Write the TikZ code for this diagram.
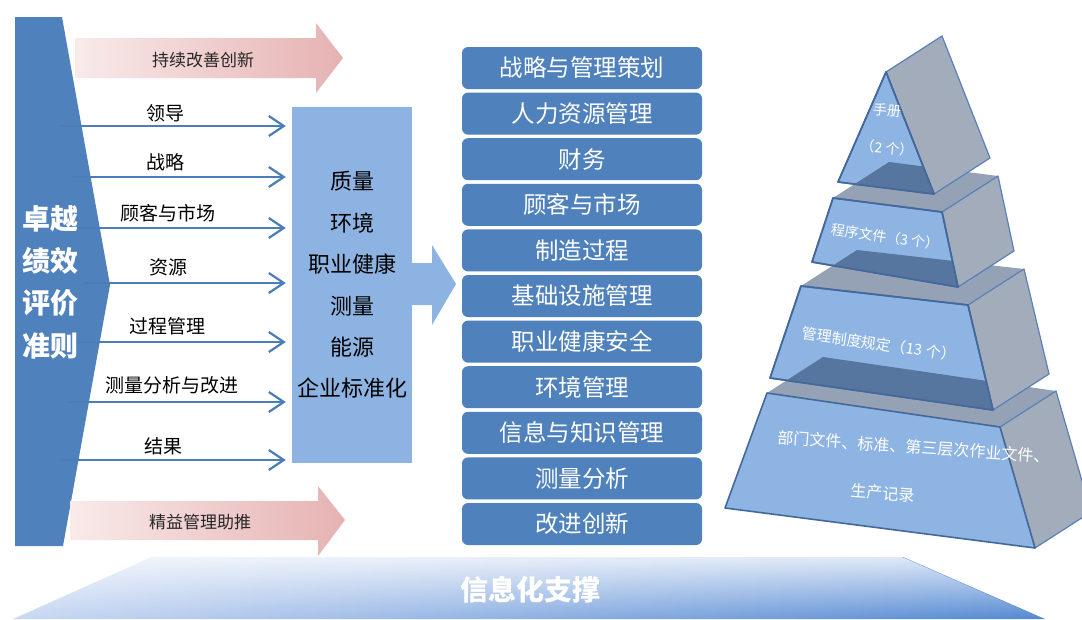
\documentclass[tikz,border=0pt]{standalone}
\usepackage{fontspec}
\setmainfont{Noto Sans CJK SC}
\usetikzlibrary{arrows.meta,calc,fadings}
\definecolor{dblue}{HTML}{4F81BD}
\definecolor{lblue}{HTML}{8DB3E2}
\definecolor{arrblue}{HTML}{4A7EBB}
\definecolor{pinkL}{HTML}{F9EAEA}
\definecolor{pinkR}{HTML}{E6B2B2}
\definecolor{barL}{HTML}{C9D8F3}
\definecolor{barM}{HTML}{9FBBE8}
\definecolor{barR}{HTML}{5288D2}
\definecolor{pgrey}{HTML}{A2ACBA}
\definecolor{pgreyTop}{HTML}{95A2B6}
\definecolor{pedge}{HTML}{5A80B8}
\definecolor{pfront}{HTML}{8EB4E3}
\definecolor{pborder}{HTML}{44689C}
\definecolor{pdark}{HTML}{56759F}
\tikzfading[name=fadetop, top color=transparent!20, bottom color=transparent!100]
\begin{document}
\begin{tikzpicture}[x=1pt,y=-1pt,
  harrow/.style={draw=arrblue, line width=2.2pt, shorten >=6pt, -{Straight Barb[length=15pt,width=20pt]}},
  hlabel/.style={font=\fontsize{19}{22}\selectfont, text=black, inner sep=0pt},
  pinktext/.style={font=\fontsize{17}{20}\selectfont, text=black!85, inner sep=0pt},
  listbox/.style={fill=dblue, rounded corners=6pt, minimum width=240pt, minimum height=42pt, inner sep=0pt, text=white, font=\fontsize{23.5}{26}\selectfont},
  sideface/.style={fill=pgrey, draw=pedge, line width=1.2pt, line join=round},
  topface/.style={fill=pgreyTop},
  frontface/.style={fill=pfront, draw=pborder, line width=1.6pt, line join=round},
  frontline/.style={draw=pborder, line width=1.6pt, line join=round},
  ptext/.style={text=white, inner sep=0pt, font=\fontsize{14}{16}\selectfont}
]
\useasboundingbox (0,0) rectangle (1082,619);
\fill[white] (0,0) rectangle (1082,619);

% left criteria shape
\fill[dblue] (15,17) -- (62,17) -- (110,285) -- (63,546) -- (15,546) -- cycle;
\node[text=white, align=center, inner sep=0pt, font=\fontsize{28}{42.3}\selectfont\bfseries] (crit) at (50,282) {卓越\\绩效\\评价\\准则};

% pink arrows
\shade[left color=pinkL, right color=pinkR] (75,38) -- (316,38) -- (316,23) -- (343,58) -- (316,93) -- (316,78) -- (75,78) -- cycle;
\node[pinktext] (cont) at (203,60) {持续改善创新};
\shade[left color=pinkL, right color=pinkR] (70,501) -- (318,501) -- (318,486) -- (345,520) -- (318,556) -- (318,540) -- (70,540) -- cycle;
\node[pinktext] (lean) at (200,522) {精益管理助推};

% middle box
\node[fill=lblue, minimum width=120pt, minimum height=356pt, inner sep=0pt, align=center, font=\fontsize{22}{41.4}\selectfont] (mid) at (352,285) {质量\\环境\\职业健康\\测量\\能源\\企业标准化};
\fill[lblue] (410,263) -- (432,263) -- (432,245) -- (456,284) -- (432,325) -- (432,305) -- (410,305) -- cycle;

% input arrows
\coordinate (s1) at (60,126);
\coordinate (s2) at (72,177);
\coordinate (s3) at (77,228);
\coordinate (s4) at (85,283);
\coordinate (s5) at (77,342);
\coordinate (s6) at (68,402);
\coordinate (s7) at (62,460);
\foreach \i in {1,...,7} { \draw[harrow] (s\i) -- (s\i -| mid.west); }
\node[hlabel] (l1) at (165,113) {领导};
\node[hlabel] (l2) at (165,162) {战略};
\node[hlabel] (l3) at (168,213) {顾客与市场};
\node[hlabel] (l4) at (168,267) {资源};
\node[hlabel] (l5) at (167,326) {过程管理};
\node[hlabel] (l6) at (172,385) {测量分析与改进};
\node[hlabel] (l7) at (163,446) {结果};

% list
\foreach \t [count=\i from 0] in {战略与管理策划,人力资源管理,财务,顾客与市场,制造过程,基础设施管理,职业健康安全,环境管理,信息与知识管理,测量分析,改进创新} {
  \node[listbox] (b\i) at (582,{68+45.6*\i}) {\t};
}

% bottom bar
\shade[left color=barL, middle color=barM, right color=barR] (152,557) -- (903,557) -- (1045,619) -- (13,619) -- cycle;
\fill[white, path fading=fadetop] (152,557) -- (903,557) -- (1045,619) -- (13,619) -- cycle;
\node[text=white, inner sep=0pt, font=\fontsize{28}{32}\selectfont\bfseries] (info) at (530,590) {信息化支撑};

% pyramid
\begin{scope}
\clip (0,0) rectangle (1082,619);
\coordinate (e) at (56,-36);
\coordinate (p4tl) at (767,393); \coordinate (p4tr) at (1000,427);
\coordinate (p4bl) at (725,508); \coordinate (p4br) at (1035,548);
\coordinate (p3tl) at (801,286); \coordinate (p3tr) at (968,305);
\coordinate (p3bl) at (770,378); \coordinate (p3br) at (993,410);
\coordinate (p2tl) at (833,198); \coordinate (p2tr) at (942,212);
\coordinate (p2bl) at (812,262); \coordinate (p2br) at (958,287);
\coordinate (p1a) at (886,72); \coordinate (p1b) at (838,182); \coordinate (p1c) at (934,194);

% layer 4
\fill[topface] (p4tl) -- (p4tr) -- ($(p4tr)+(e)$) -- ($(p4tl)+(e)$) -- cycle;
\filldraw[sideface] (p4tr) -- ($(p4tr)+(e)$) -- ($(p4br)+(e)$) -- (p4br) -- cycle;
\filldraw[frontface] (p4tl) -- (p4tr) -- (p4br) -- (p4bl) -- cycle;
\node[ptext, rotate=-4, font=\fontsize{16}{18}\selectfont] (t4a) at (914,447) {部门文件、标准、第三层次作业文件、};
\node[ptext, rotate=-4, font=\fontsize{16}{18}\selectfont] (t4b) at (883,493) {生产记录};

% layer 3
\fill[topface] (p3tl) -- (p3tr) -- ($(p3tr)+(e)$) -- ($(p3tl)+(e)$) -- cycle;
\filldraw[sideface] (p3tr) -- ($(p3tr)+(e)$) -- ($(p3br)+(e)$) -- (p3br) -- cycle;
\filldraw[frontface] (p3tl) -- (p3tr) -- (p3br) -- (p3bl) -- cycle;
\begin{scope}
\clip (p3tl) -- (p3tr) -- (p3br) -- (p3bl) -- cycle;
\fill[pdark] (p4tl) -- (p4tr) -- ($(p4tr)+(e)$) -- ($(p4tl)+(e)$) -- cycle;
\end{scope}
\draw[frontline] (p3tl) -- (p3tr) -- (p3br) -- (p3bl) -- cycle;
\node[ptext, rotate=-8, font=\fontsize{15}{17}\selectfont] (t3) at (879,344) {管理制度规定（13 个）};

% layer 2
\fill[topface] (p2tl) -- (p2tr) -- ($(p2tr)+(e)$) -- ($(p2tl)+(e)$) -- cycle;
\filldraw[sideface] (p2tr) -- ($(p2tr)+(e)$) -- ($(p2br)+(e)$) -- (p2br) -- cycle;
\filldraw[frontface] (p2tl) -- (p2tr) -- (p2br) -- (p2bl) -- cycle;
\begin{scope}
\clip (p2tl) -- (p2tr) -- (p2br) -- (p2bl) -- cycle;
\fill[pdark] (p3tl) -- (p3tr) -- ($(p3tr)+(e)$) -- ($(p3tl)+(e)$) -- cycle;
\end{scope}
\draw[frontline] (p2tl) -- (p2tr) -- (p2br) -- (p2bl) -- cycle;
\node[ptext, rotate=-8] (t2) at (885,237) {程序文件（3 个）};

% layer 1
\filldraw[sideface] (p1a) -- ($(p1a)+(e)$) -- ($(p1c)+(e)$) -- (p1c) -- cycle;
\filldraw[frontface] (p1a) -- (p1c) -- (p1b) -- cycle;
\begin{scope}
\clip (p1a) -- (p1c) -- (p1b) -- cycle;
\fill[pdark] (p2tl) -- (p2tr) -- ($(p2tr)+(e)$) -- ($(p2tl)+(e)$) -- cycle;
\end{scope}
\draw[frontline] (p1a) -- (p1c) -- (p1b) -- cycle;
\node[ptext, rotate=-5] (t1a) at (887,110) {手册};
\node[ptext, rotate=-5] (t1b) at (887,148) {（2 个）};
\end{scope}
\end{tikzpicture}
\end{document}
